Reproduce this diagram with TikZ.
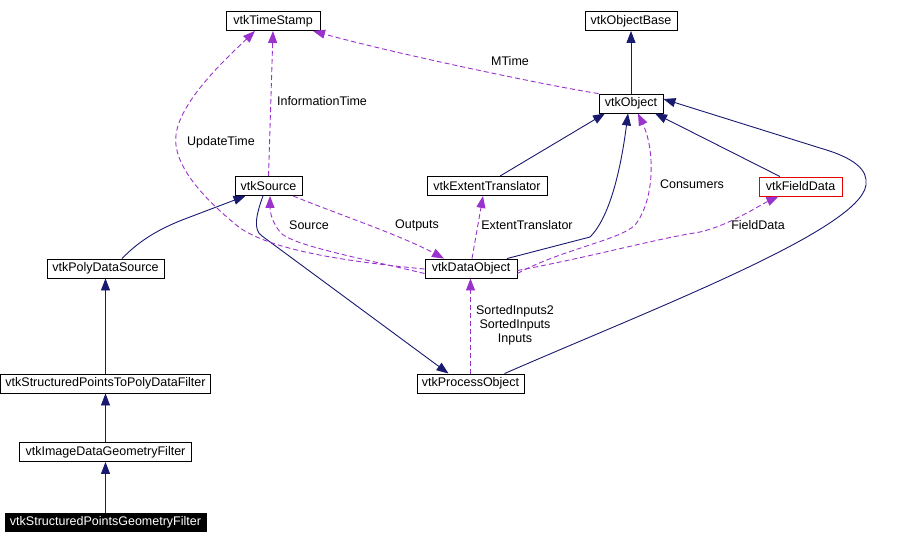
\documentclass[tikz,border=0pt]{standalone}
\usepackage{fontspec}
\setmainfont{Liberation Sans}
\usetikzlibrary{arrows.meta}
\definecolor{navy}{RGB}{25,25,112}
\definecolor{purp}{RGB}{154,50,205}
\definecolor{redb}{RGB}{230,0,0}
\begin{document}
\begin{tikzpicture}[x=1pt,y=-1pt,
  box/.style={draw=black,line width=0.9pt,inner sep=0pt,minimum height=19pt,font=\fontsize{12.5}{14}\selectfont},
  lab/.style={inner sep=0pt,font=\fontsize{12.5}{14}\selectfont},
  inh/.style={draw=navy,line width=0.9pt,-{Triangle[length=12pt,width=9pt]}},
  use/.style={draw=purp,line width=0.9pt,dash pattern=on 5pt off 3pt,-{Triangle[length=12pt,width=9pt]}}]
\useasboundingbox (0,0) rectangle (902,544);
% nodes
\node[box,minimum width=94pt] (ts) at (273,21) {vtkTimeStamp};
\node[box,minimum width=92pt] (ob) at (631,21) {vtkObjectBase};
\node[box,minimum width=64pt] (obj) at (631,103.5) {vtkObject};
\node[box,minimum width=67pt] (src) at (268.5,186) {vtkSource};
\node[box,minimum width=120pt] (et) at (487,186) {vtkExtentTranslator};
\node[box,draw=redb,minimum width=83pt] (fd) at (800.5,186.5) {vtkFieldData};
\node[box,minimum width=92pt] (do) at (471,268.5) {vtkDataObject};
\node[box,minimum width=117pt] (pds) at (105.5,268.5) {vtkPolyDataSource};
\node[box,minimum width=210pt] (sptp) at (105.5,383.5) {vtkStructuredPointsToPolyDataFilter};
\node[box,minimum width=172pt] (idgf) at (105.5,452) {vtkImageDataGeometryFilter};
\node[box,fill=black,text=white,minimum width=201pt,minimum height=18pt] (spgf) at (105.5,522) {vtkStructuredPointsGeometryFilter};
\node[box,minimum width=107pt] (po) at (470.5,383.5) {vtkProcessObject};
% inheritance
\draw[inh] (obj.north) -- (ob.south);
\draw[inh] ([xshift=13pt]et.north) -- ([xshift=-26pt]obj.south);
\draw[inh] ([xshift=-20.5pt]fd.north) -- ([xshift=24pt]obj.south);
\draw[inh] ([xshift=36pt]do.north) -- (590,237) .. controls (612,215) and (622,160) .. ([xshift=-3pt]obj.south);
\draw[inh] ([xshift=34pt]po.north) .. controls (650,310) and (860,230) .. (866,185) .. controls (868,170) and (855,158) .. (820,148) -- ([yshift=4.5pt]obj.east);
\draw[inh] ([xshift=-5.5pt]src.south) .. controls (256,215) and (253,230) .. (262,236) -- ([xshift=-22pt]po.north);
\draw[inh] ([xshift=16.5pt]pds.north) .. controls (140,240) and (160,228) .. (190,217) -- ([xshift=-23pt]src.south);
\draw[inh] (sptp.north) -- (pds.south);
\draw[inh] (idgf.north) -- (sptp.south);
\draw[inh] (spgf.north) -- (idgf.south);
% usage
\draw[use] (obj.north west) .. controls (560,88) and (400,55) .. ([xshift=40pt]ts.south);
\node[lab] (lmt) at (510,61) {MTime};
\draw[use] (src.north) -- (ts.south);
\node[lab] (lit) at (322,101) {InformationTime};
\draw[use] ([yshift=-0.5pt]do.west) .. controls (330,260) and (270,248) .. (240,228) .. controls (205,200) and (172,165) .. (176,135) .. controls (180,100) and (230,55) .. ([xshift=-18pt]ts.south);
\node[lab] (lut) at (221,142) {UpdateTime};
\draw[use] ([yshift=-5pt]do.west) .. controls (360,258) and (290,245) .. (280,232) .. controls (272,222) and (270,212) .. ([xshift=1.5pt]src.south);
\node[lab] (lsr) at (309,225) {Source};
\draw[use] ([xshift=24.5pt]src.south) .. controls (340,215) and (400,235) .. ([xshift=-27pt]do.north);
\node[lab] (lou) at (417,225) {Outputs};
\draw[use] ([xshift=1pt]do.north) -- ([xshift=-4pt]et.south);
\node[lab] (let) at (527,225) {ExtentTranslator};
\draw[use] ([yshift=-5pt]do.east) .. controls (560,250) and (620,240) .. (635,225) .. controls (655,200) and (655,150) .. ([xshift=7pt]obj.south);
\node[lab] (lco) at (692,184) {Consumers};
\draw[use] ([yshift=-2pt]do.east) .. controls (600,255) and (650,240) .. (700,232) .. controls (730,225) and (760,205) .. ([xshift=-22pt]fd.south);
\node[lab] (lfd) at (758,225) {FieldData};
\draw[use] (po.north) -- (po.north |- do.south);
\node[lab,align=center] (lin) at (515,325) {SortedInputs2\\SortedInputs\\Inputs};
\end{tikzpicture}
\end{document}
